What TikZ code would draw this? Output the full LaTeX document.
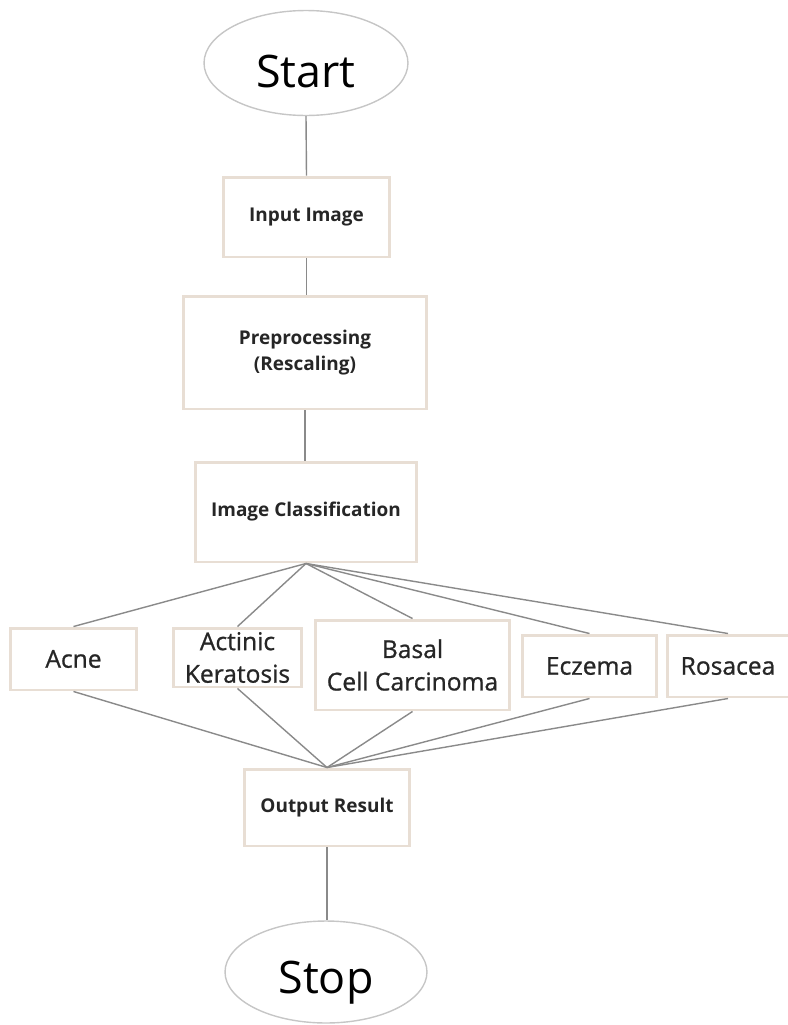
\documentclass[tikz,border=0pt]{standalone}
\usepackage{fontspec}
\setmainfont{Open Sans}
\newfontfamily\medfont[FakeBold=0.9]{Open Sans}
\usepackage{tikz}
\usepackage{xcolor}
\usetikzlibrary{shapes,arrows}

\definecolor{boxline}{RGB}{232,222,212}
\definecolor{wiregray}{RGB}{138,138,138}
\definecolor{ovalline}{RGB}{198,198,198}
\definecolor{ink}{RGB}{38,38,38}

\begin{document}
\begin{tikzpicture}[x=0.02cm,y=-0.02cm,
        terminal/.style={ellipse,draw=ovalline,line width=0.8pt,inner sep=0pt},
        process/.style={rectangle,draw=boxline,line width=1.7pt,text=ink,align=center,inner sep=0pt,
            font=\fontsize{10.8}{15}\selectfont\bfseries},
        disease/.style={rectangle,draw=boxline,line width=1.7pt,text=ink,align=center,inner sep=0pt,
            font=\fontsize{14}{18.5}\selectfont\medfont},
        wire/.style={draw=wiregray,line width=0.8pt}]
                \useasboundingbox (0,0) rectangle (788,1025);

                % Start and stop ovals
                \node[terminal,minimum width=4.08cm,minimum height=2.1cm,
                    label={[font=\fontsize{25.5}{30}\selectfont,text=black,yshift=-0.16cm]center:Start}] (start) at (306,63) {};
                \node[terminal,minimum width=4.04cm,minimum height=2.04cm,
                    label={[font=\fontsize{25.5}{30}\selectfont,text=black,yshift=-0.22cm]center:Stop}] (stop) at (326,972) {};

                % Main steps
                \node[process,minimum width=3.34cm,minimum height=1.6cm] (input) at (306.5,217) {Input Image};
                \node[process,minimum width=4.88cm,minimum height=2.26cm] (prep) at (305,352.5) {Preprocessing\\(Rescaling)};
                \node[process,minimum width=4.44cm,minimum height=2.0cm] (classif) at (306,512) {Image Classification};
                \node[process,minimum width=3.32cm,minimum height=1.54cm] (output) at (327,807.5) {Output Result};

                % Classes
                \node[disease,minimum width=2.54cm,minimum height=1.24cm] (acne) at (73.5,659) {Acne};
                \node[disease,minimum width=2.58cm,minimum height=1.18cm] (actinic) at (237.5,657.5) {Actinic\\Keratosis};
                \node[disease,minimum width=3.9cm,minimum height=1.8cm] (basal) at (412.5,665) {Basal\\Cell Carcinoma};
                \node[disease,minimum width=2.7cm,minimum height=1.24cm] (eczema) at (589.5,666) {Eczema};
                \node[disease,minimum width=2.44cm,minimum height=1.24cm] (rosacea) at (728,666) {Rosacea};

                % Straight links
                \draw[wire] (start.south) -- (input.north);
                \draw[wire] (input.south) -- (input.south |- prep.north);
                \draw[wire] (prep.south) -- (prep.south |- classif.north);
                \draw[wire] (output.south) -- (output.south |- stop.north);

                % Fan out to the classes
                \draw[wire] (classif.south) -- (acne.north);
                \draw[wire] (classif.south) -- (actinic.north);
                \draw[wire] (classif.south) -- (basal.north);
                \draw[wire] (classif.south) -- (eczema.north);
                \draw[wire] (classif.south) -- (rosacea.north);

                % Fan in to the result
                \draw[wire] (acne.south) -- (output.north);
                \draw[wire] (actinic.south) -- (output.north);
                \draw[wire] (basal.south) -- (output.north);
                \draw[wire] (eczema.south) -- (output.north);
                \draw[wire] (rosacea.south) -- (output.north);
            \end{tikzpicture}
\end{document}
